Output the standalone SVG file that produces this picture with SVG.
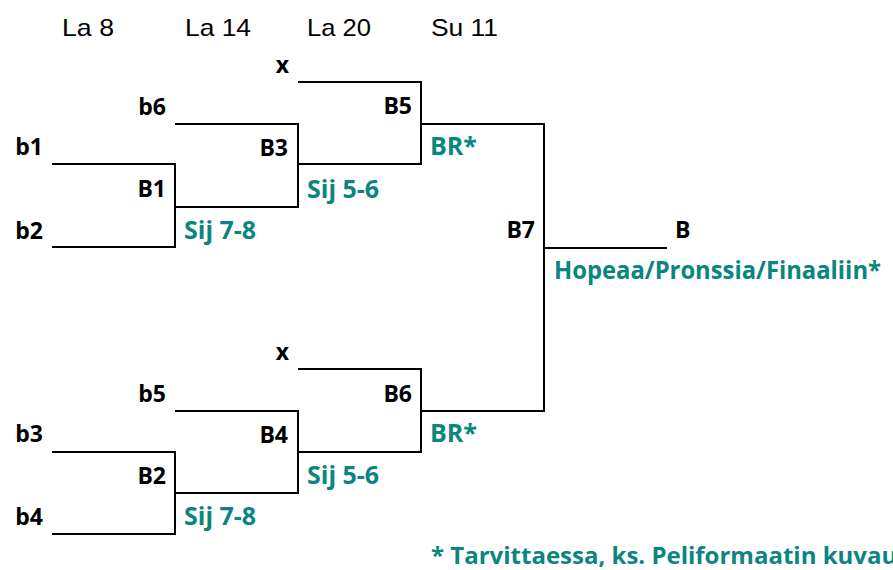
<svg xmlns="http://www.w3.org/2000/svg" width="893" height="570" viewBox="0 0 893 570">
<style>
.hdr{font-family:"Liberation Sans",Arial,sans-serif;font-size:24px;fill:#000}
.lb{font-family:"Open Sans","DejaVu Sans",sans-serif;font-weight:bold;font-size:23px;fill:#000;text-anchor:end}
.lbl{font-family:"Open Sans","DejaVu Sans",sans-serif;font-weight:bold;font-size:23px;fill:#000}
.tl{font-family:"Open Sans","DejaVu Sans",sans-serif;font-weight:bold;font-size:25px;fill:#0a8580}
.ln{fill:none;stroke:#000;stroke-width:2}
</style>
<rect width="893" height="570" fill="#fff"/>
<g id="headers">
<text class="hdr" x="62" y="36" textLength="52" lengthAdjust="spacingAndGlyphs">La 8</text>
<text class="hdr" x="185" y="36" textLength="66" lengthAdjust="spacingAndGlyphs">La 14</text>
<text class="hdr" x="307" y="36" textLength="64" lengthAdjust="spacingAndGlyphs">La 20</text>
<text class="hdr" x="431" y="36" textLength="67" lengthAdjust="spacingAndGlyphs">Su 11</text>
</g>
<g id="connectors">
<path class="ln" d="M52,164H175V247H52"/>
<path class="ln" d="M175,207H298V124H175"/>
<path class="ln" d="M298,82H421V164H298"/>
<path class="ln" d="M52,452H175V534H52"/>
<path class="ln" d="M175,493H298V411H175"/>
<path class="ln" d="M298,369H421V452H298"/>
<path class="ln" d="M421,124H544V411H421"/>
<path class="ln" d="M544,248H667"/>
</g>
<g id="b1"><text class="lb" x="43" y="155">b1</text></g>
<g id="b2"><text class="lb" x="43" y="239">b2</text></g>
<g id="B1"><text class="lb" x="166" y="197">B1</text><text class="tl" x="184" y="239">Sij 7-8</text></g>
<g id="b6"><text class="lb" x="166" y="115">b6</text></g>
<g id="B3"><text class="lb" x="288" y="156">B3</text><text class="tl" x="307" y="198">Sij 5-6</text></g>
<g id="x1"><text class="lb" x="289" y="73">x</text></g>
<g id="B5"><text class="lb" x="412" y="114">B5</text><text class="tl" x="430" y="155">BR*</text></g>
<g id="b3"><text class="lb" x="43" y="442">b3</text></g>
<g id="b4"><text class="lb" x="43" y="525">b4</text></g>
<g id="B2"><text class="lb" x="166" y="484">B2</text><text class="tl" x="184" y="525">Sij 7-8</text></g>
<g id="b5"><text class="lb" x="166" y="402">b5</text></g>
<g id="B4"><text class="lb" x="288" y="443">B4</text><text class="tl" x="307" y="484">Sij 5-6</text></g>
<g id="x2"><text class="lb" x="289" y="360">x</text></g>
<g id="B6"><text class="lb" x="412" y="402">B6</text><text class="tl" x="430" y="442">BR*</text></g>
<g id="B7"><text class="lb" x="535" y="238">B7</text><text class="tl" x="554" y="279" textLength="327" lengthAdjust="spacingAndGlyphs">Hopeaa/Pronssia/Finaaliin*</text></g>
<g id="B"><text class="lbl" x="675" y="238">B</text></g>
<g id="note"><text class="tl" x="431" y="564" style="font-size:24px">* Tarvittaessa, ks. Peliformaatin kuvau</text></g>
</svg>
